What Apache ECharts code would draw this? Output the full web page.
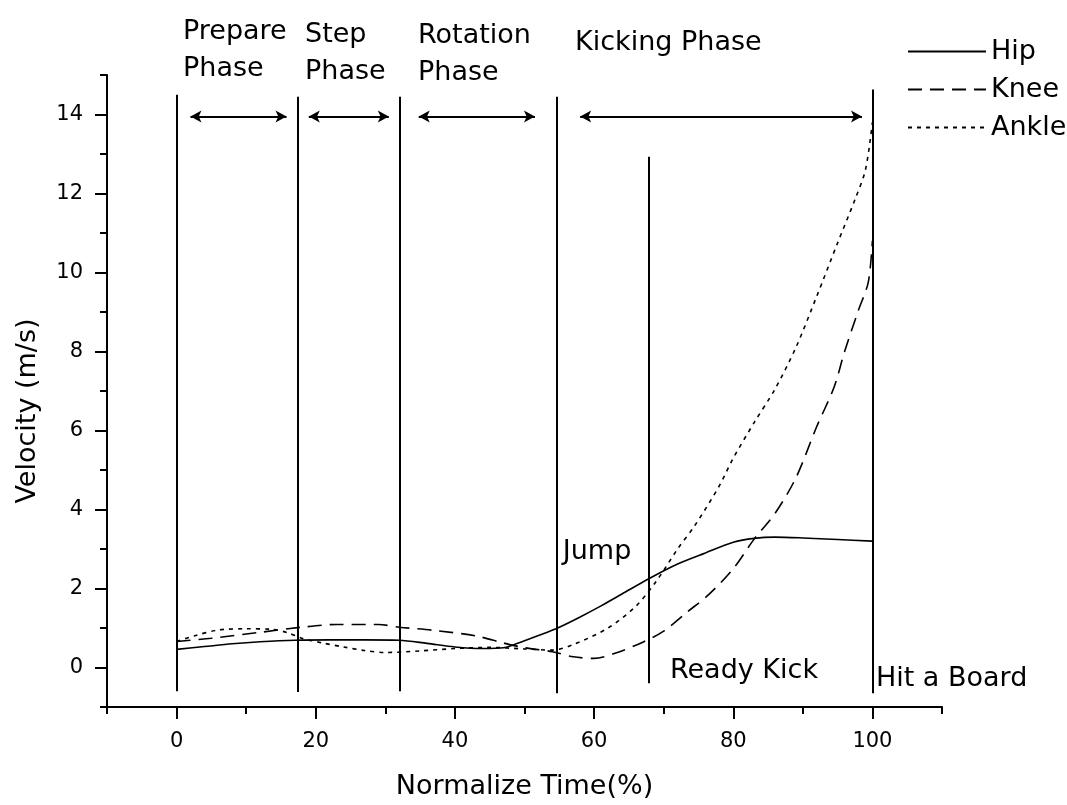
<!DOCTYPE html>
<html>
<head>
<meta charset="utf-8">
<script src="https://cdn.jsdelivr.net/npm/echarts@6/dist/echarts.min.js"></script>
<style>
  html, body { margin: 0; padding: 0; background: #fff; }
  #chart { width: 1067px; height: 805px; }
</style>
</head>
<body>
<div id="chart"></div>
<script>
// curves
const hipX = [0, 4, 8, 12, 17, 22, 27, 32, 36, 40, 44, 47, 50, 52.5, 55, 58, 61, 64, 68, 72, 76, 80, 83, 86, 90, 95, 100];
const hipY = [0.46, 0.53, 0.6, 0.65, 0.69, 0.7, 0.7, 0.69, 0.61, 0.52, 0.48, 0.5, 0.68, 0.84, 1.02, 1.28, 1.56, 1.86, 2.26, 2.62, 2.9, 3.17, 3.27, 3.3, 3.28, 3.24, 3.2];

const kneeX = [0, 5, 12, 18, 23, 29, 32, 37, 43, 47, 50, 54, 57, 60, 63, 67, 70, 73.5, 76.5, 80, 83, 86, 89, 92, 94.5, 96, 98, 99.4, 100];
const kneeY = [0.66, 0.74, 0.89, 1.02, 1.09, 1.09, 1.02, 0.94, 0.8, 0.62, 0.5, 0.4, 0.27, 0.23, 0.36, 0.64, 0.92, 1.42, 1.85, 2.5, 3.25, 3.9, 4.8, 6.1, 7.1, 8.0, 9.05, 9.75, 10.8];

const ankleX = [0, 2.5, 6, 10, 13.5, 16, 18, 21, 24, 27, 30, 35, 40, 45, 50, 54, 57, 62, 66, 69, 72, 74.5, 78, 80, 83, 86, 89, 92, 95, 97.5, 99, 100];
const ankleY = [0.66, 0.8, 0.95, 0.98, 0.97, 0.88, 0.74, 0.62, 0.52, 0.43, 0.38, 0.42, 0.48, 0.51, 0.47, 0.44, 0.58, 1.0, 1.55, 2.2, 3.0, 3.6, 4.6, 5.3, 6.2, 7.05, 8.1, 9.4, 10.75, 11.85, 12.6, 13.8];

// phase boundary lines
const markX = [0, 17.4, 32.1, 54.7, 67.9, 100];
const markTop = [14.5, 14.45, 14.45, 14.45, 12.93, 14.63];
const markBottom = [-0.6, -0.62, -0.6, -0.65, -0.4, -0.65];

// double arrows at y = 13.95
const arrowFrom = [2.0, 19.0, 34.8, 58.0];
const arrowTo = [15.8, 30.5, 51.5, 98.5];
const arrowY = 13.95;

// annotation texts (left/top anchor)
const noteText = ['Prepare\nPhase', 'Step\nPhase', 'Rotation\nPhase', 'Kicking Phase', 'Jump', 'Ready Kick', 'Hit a Board'];
const noteX = [0.92, 18.46, 34.7, 57.26, 55.5, 70.9, 100.5];
const noteY = [16.57, 16.49, 16.46, 16.27, 3.4, 0.37, 0.17];

const xLabels = [0, 20, 40, 60, 80, 100];
const xMinor = [-10, 10, 30, 50, 70, 90, 110];
const yLabels = [0, 2, 4, 6, 8, 10, 12, 14];
const yMinor = [-1, 1, 3, 5, 7, 9, 11, 13, 15];

const FONT = 'DejaVu Sans';
const zip = (xs, ys) => xs.map((x, i) => [x, ys[i]]);

var chartDom = document.getElementById('chart');
var myChart = echarts.init(chartDom);
var option = {
    animation: false,
    backgroundColor: '#fff',
    grid: { left: 107, right: 125, top: 75, bottom: 98 },
    legend: {
        data: ['Hip', 'Knee', 'Ankle'],
        orient: 'vertical',
        left: 902,
        top: 33,
        itemWidth: 78,
        itemHeight: 2,
        itemGap: 11,
        itemStyle: { opacity: 0 },
        textStyle: { fontFamily: FONT, fontSize: 27, color: '#000' }
    },
    xAxis: [{
        type: 'value', min: -10, max: 110,
        name: 'Normalize Time(%)', nameLocation: 'middle', nameGap: 66,
        nameTextStyle: { fontFamily: FONT, fontSize: 27, color: '#000' },
        axisLine: { onZero: false, lineStyle: { color: '#000', width: 2 } },
        axisTick: { customValues: xLabels, length: 12, lineStyle: { color: '#000', width: 2 } },
        axisLabel: { customValues: xLabels, margin: 24, fontFamily: FONT, fontSize: 21, color: '#000' },
        splitLine: { show: false }
    }, {
        type: 'value', min: -10, max: 110, position: 'bottom',
        axisLine: { show: false, onZero: false },
        axisTick: { customValues: xMinor, length: 7, lineStyle: { color: '#000', width: 2 } },
        axisLabel: { show: false },
        splitLine: { show: false }
    }],
    yAxis: [{
        type: 'value', min: -1, max: 15,
        name: 'Velocity (m/s)', nameLocation: 'middle', nameGap: 66,
        nameTextStyle: { fontFamily: FONT, fontSize: 27, color: '#000', padding: [0, 40, 0, 0] },
        axisLine: { show: true, onZero: false, lineStyle: { color: '#000', width: 2 } },
        axisTick: { show: true, customValues: yLabels, length: 12, lineStyle: { color: '#000', width: 2 } },
        axisLabel: { customValues: yLabels, margin: 24, fontFamily: FONT, fontSize: 21, color: '#000' },
        splitLine: { show: false }
    }, {
        type: 'value', min: -1, max: 15, position: 'left',
        axisLine: { show: false, onZero: false },
        axisTick: { show: true, customValues: yMinor, length: 7, lineStyle: { color: '#000', width: 2 } },
        axisLabel: { show: false },
        splitLine: { show: false }
    }],
    series: [
        {
            name: 'Hip', type: 'line', data: zip(hipX, hipY), symbol: 'none', smooth: 0.3,
            lineStyle: { color: '#000', width: 1.6, type: 'solid' }, itemStyle: { color: '#000' }
        },
        {
            name: 'Knee', type: 'line', data: zip(kneeX, kneeY), symbol: 'none', smooth: 0.3,
            lineStyle: { color: '#000', width: 1.6, type: [14, 8] }, itemStyle: { color: '#000' }
        },
        {
            name: 'Ankle', type: 'line', data: zip(ankleX, ankleY), symbol: 'none', smooth: 0.3,
            lineStyle: { color: '#000', width: 1.6, type: [4, 5] }, itemStyle: { color: '#000' }
        },
        {
            name: 'marks', type: 'line', data: [], silent: true,
            markLine: {
                silent: true, animation: false, symbol: ['none', 'none'],
                label: { show: false },
                lineStyle: { color: '#000', width: 2, type: 'solid' },
                data: markX.map((x, i) => [{ coord: [x, markBottom[i]] }, { coord: [x, markTop[i]] }])
                    .concat(arrowFrom.map((x, i) => [
                        { coord: [x, arrowY], symbol: 'arrow', symbolSize: [9, 11], lineStyle: { width: 2 } },
                        { coord: [arrowTo[i], arrowY], symbol: 'arrow', symbolSize: [9, 11] }
                    ]))
            }
        },
        {
            name: 'notes', type: 'scatter', symbolSize: 0, clip: false, silent: true,
            itemStyle: { color: '#000' },
            data: noteText.map((t, i) => ({ name: t, value: [noteX[i], noteY[i]] })),
            label: {
                show: true, position: [0, 0], align: 'left', verticalAlign: 'top',
                formatter: p => p.name,
                fontFamily: FONT, fontSize: 27, lineHeight: 37, color: '#000',
                textBorderWidth: 0, opacity: 1
            }
        }
    ]
};
option && myChart.setOption(option);
</script>
</body>
</html>
